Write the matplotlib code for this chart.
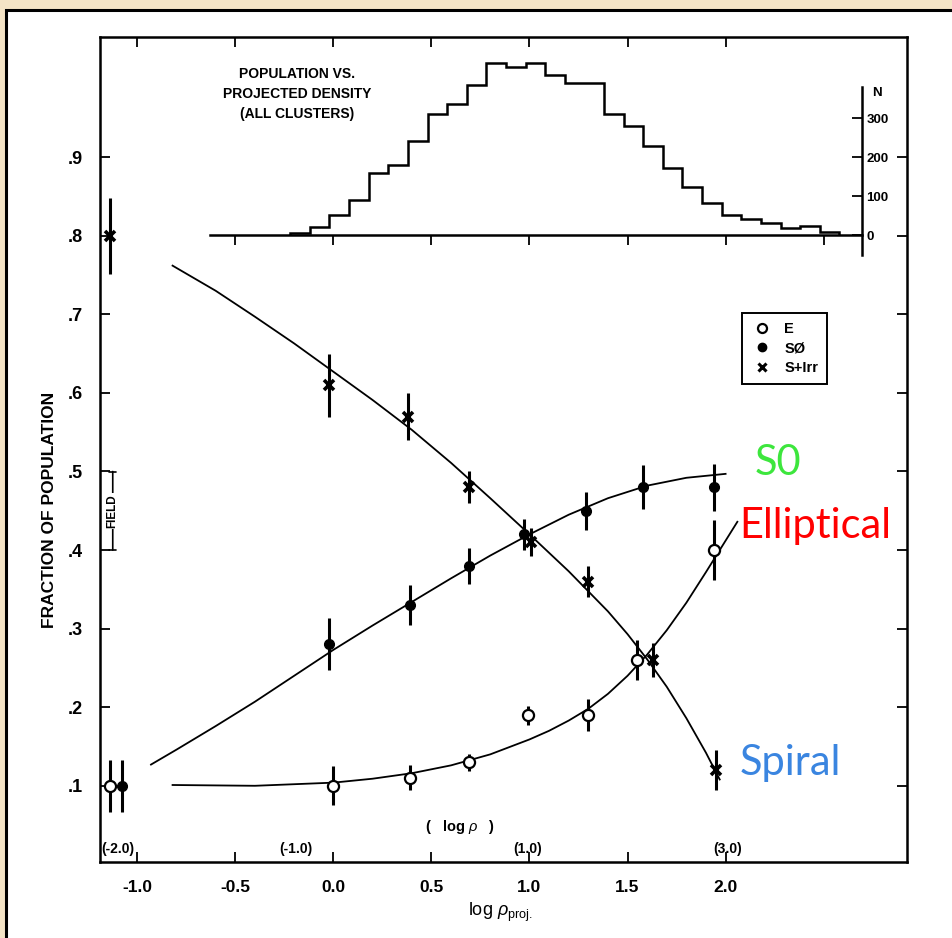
import numpy as np
import matplotlib
matplotlib.use('Agg')
import matplotlib.pyplot as plt
from matplotlib.patches import Rectangle
from matplotlib.lines import Line2D

plt.rcParams['font.family'] = ['Liberation Sans', 'DejaVu Sans']
plt.rcParams['mathtext.fontset'] = 'custom'
plt.rcParams['mathtext.rm'] = 'Liberation Sans'
plt.rcParams['mathtext.it'] = 'Liberation Sans:italic'

# field values (left of the axis break)
field_x = [-1.14, -1.08, -1.14]
field_y = [0.10, 0.10, 0.80]
field_err = [0.033, 0.033, 0.048]

# cluster points: log rho_proj, fraction, error
e_x = [0.0, 0.39, 0.69, 0.99, 1.30, 1.55, 1.94]
e_y = [0.10, 0.11, 0.13, 0.19, 0.19, 0.26, 0.40]
e_err = [0.025, 0.016, 0.011, 0.012, 0.02, 0.025, 0.038]

s0_x = [-0.02, 0.39, 0.69, 0.97, 1.29, 1.58, 1.94]
s0_y = [0.28, 0.33, 0.38, 0.42, 0.45, 0.48, 0.48]
s0_err = [0.033, 0.025, 0.023, 0.02, 0.024, 0.028, 0.03]

sp_x = [-0.02, 0.38, 0.69, 1.01, 1.30, 1.63, 1.95]
sp_y = [0.61, 0.57, 0.48, 0.41, 0.36, 0.26, 0.12]
sp_err = [0.04, 0.03, 0.02, 0.018, 0.02, 0.022, 0.025]

# hand drawn curves
sp_curve_x = [-0.82, -0.6, -0.4, -0.2, 0.0, 0.2, 0.4, 0.6, 0.8, 1.0, 1.2, 1.4, 1.5, 1.6, 1.7, 1.8, 1.9, 1.97]
sp_curve_y = [0.762, 0.730, 0.697, 0.663, 0.627, 0.591, 0.553, 0.511, 0.466, 0.420, 0.373, 0.322,
              0.293, 0.261, 0.226, 0.186, 0.142, 0.108]
s0_curve_x = [-0.93, -0.8, -0.6, -0.4, -0.2, 0.0, 0.2, 0.4, 0.6, 0.8, 1.0, 1.2, 1.4, 1.6, 1.8, 2.0]
s0_curve_y = [0.127, 0.146, 0.176, 0.207, 0.240, 0.273, 0.304, 0.334, 0.364, 0.393, 0.420, 0.445,
              0.466, 0.482, 0.492, 0.497]
e_curve_x = [-0.82, -0.4, 0.0, 0.2, 0.4, 0.6, 0.8, 1.0, 1.1, 1.2, 1.3, 1.4, 1.5, 1.6, 1.7, 1.8, 1.9, 2.0, 2.06]
e_curve_y = [0.101, 0.100, 0.104, 0.109, 0.116, 0.126, 0.140, 0.159, 0.170, 0.183, 0.198, 0.217,
             0.240, 0.267, 0.298, 0.333, 0.372, 0.412, 0.436]

# histogram of all cluster galaxies
hist_edges = [-0.22, -0.12, -0.02, 0.08, 0.18, 0.28, 0.38, 0.48, 0.58, 0.68, 0.78, 0.88,
              0.98, 1.08, 1.18, 1.28, 1.38, 1.48, 1.58, 1.68, 1.78, 1.88, 1.98, 2.08,
              2.18, 2.28, 2.38, 2.48, 2.58]
hist_n = [4, 21, 51, 89, 158, 180, 241, 310, 335, 384, 440, 431, 440, 410, 391, 391,
          311, 279, 227, 171, 123, 83, 52, 41, 31, 17, 23, 7]

xticks = [-1.0, -0.5, 0.0, 0.5, 1.0, 1.5, 2.0]
xtick_labels = ['-1.0', '-0.5', '0.0', '0.5', '1.0', '1.5', '2.0']
yticks = [0.1, 0.2, 0.3, 0.4, 0.5, 0.6, 0.7, 0.8, 0.9]
ytick_labels = ['.1', '.2', '.3', '.4', '.5', '.6', '.7', '.8', '.9']
logrho_pos = [-1.10, -0.19, 0.99, 2.01]
logrho_labels = ['(-2.0)', '(-1.0)', '(1.0)', '(3.0)']
n_ticks = [0, 100, 200, 300]
hist_ticks = [-0.5, 0.0, 0.5, 1.0, 1.5, 2.0, 2.5]

W, H = 953, 938
fig = plt.figure(figsize=(W / 100, H / 100), dpi=100)
fig.patch.set_facecolor('#f4e4c6')
fig.patches.append(Rectangle((6 / W, -0.05), 1.1, 1 - 10 / H + 0.05, transform=fig.transFigure,
                             facecolor='white', edgecolor='black', lw=2.2, zorder=-5))

ax = fig.add_axes([100 / W, 1 - 862 / H, 807 / W, 825 / H])
ax.set_zorder(2)
ax.set_facecolor('white')
ax.set_xlim(-1.19, 2.925)
ax.set_ylim(0.003, 1.053)
for s in ax.spines.values():
    s.set_linewidth(1.8)
ax.set_xticks(xticks)
ax.set_xticklabels(xtick_labels, fontsize=12.5, fontweight='bold')
ax.set_yticks(yticks)
ax.set_yticklabels(ytick_labels, fontsize=13, fontweight='bold')
ax.tick_params(direction='in', top=True, right=True, length=7, width=1.3)
ax.tick_params(axis='x', pad=13)
ax.tick_params(axis='y', pad=12)

# curves
ax.plot(sp_curve_x, sp_curve_y, color='black', lw=1.3)
ax.plot(s0_curve_x, s0_curve_y, color='black', lw=1.3)
ax.plot(e_curve_x, e_curve_y, color='black', lw=1.3)

eb = dict(color='black', elinewidth=2.2, capsize=0, ls='none', zorder=3)
ax.errorbar(e_x, e_y, yerr=e_err, fmt='o', ms=8, mfc='white', mec='black', mew=1.6, **eb)
ax.errorbar(s0_x, s0_y, yerr=s0_err, fmt='o', ms=7, mfc='black', mec='black', **eb)
ax.errorbar(sp_x, sp_y, yerr=sp_err, fmt='x', ms=7, mew=2.6, **eb)
ax.errorbar(field_x[0], field_y[0], yerr=field_err[0], fmt='o', ms=8, mfc='white', mec='black', mew=1.6, **eb)
ax.errorbar(field_x[1], field_y[1], yerr=field_err[1], fmt='o', ms=7, mfc='black', mec='black', **eb)
ax.errorbar(field_x[2], field_y[2], yerr=field_err[2], fmt='x', ms=7, mew=2.6, **eb)

# field bracket
ax.annotate('', xy=(-1.125, 0.4), xytext=(-1.125, 0.5),
            arrowprops=dict(arrowstyle='|-|,widthA=0.25,widthB=0.25', lw=1.2, color='black',
                            shrinkA=0, shrinkB=0))
ax.text(-1.125, 0.45, 'FIELD', rotation=90, ha='center', va='center', fontsize=8.5,
        fontweight='bold', bbox=dict(facecolor='white', edgecolor='none', pad=1))

for xp, lab in zip(logrho_pos, logrho_labels):
    ax.text(xp, 0.019, lab, ha='center', va='center', fontsize=10, fontweight='bold')
ax.text(0.645, 0.047, r'(   log $\rho$   )', ha='center', va='center', fontsize=10.5, fontweight='bold')

handles = [Line2D([], [], ls='none', marker='o', ms=6.5, mfc='white', mec='black', mew=1.6),
           Line2D([], [], ls='none', marker='o', ms=6, mfc='black', mec='black'),
           Line2D([], [], ls='none', marker='x', ms=6, mew=2.2, color='black')]
leg = ax.legend(handles, ['E', 'SØ', 'S+Irr'], loc='upper left', bbox_to_anchor=(0.7955, 0.6655),
                borderaxespad=0, fancybox=False, edgecolor='black', framealpha=1,
                handlelength=1.5, handletextpad=0.8, borderpad=0.6, labelspacing=0.4,
                prop={'size': 10.5, 'weight': 'bold'})
leg.get_frame().set_linewidth(1.4)

# colored annotations
ax.text(2.15, 0.496, 'S0', color='#3de63d', fontsize=30, family='Lato', va='baseline')
ax.text(2.07, 0.4155, 'Elliptical', color='#ff0000', fontsize=30, family='Lato', va='baseline')
ax.text(2.07, 0.114, 'Spiral', color='#3a85e0', fontsize=30, family='Lato', va='baseline')

# histogram inset sharing the x scale
axh = fig.add_axes([100 / W, 1 - 260 / H, 807 / W, 210 / H])
axh.set_zorder(3)
axh.set_facecolor('none')
axh.set_xlim(ax.get_xlim())
axh.set_ylim(-64.1, 474.4)
axh.stairs(hist_n, hist_edges, color='black', lw=1.8)
for k in ['top', 'left']:
    axh.spines[k].set_visible(False)
axh.spines['bottom'].set_position(('data', 0))
axh.spines['bottom'].set_bounds(-0.63, 2.696)
axh.spines['bottom'].set_linewidth(1.8)
axh.spines['right'].set_position(('data', 2.696))
axh.spines['right'].set_bounds(-51, 380)
axh.spines['right'].set_linewidth(1.8)
axh.set_xticks(hist_ticks)
axh.set_xticklabels([])
axh.tick_params(axis='x', direction='out', length=7, width=1.3)
axh.yaxis.tick_right()
axh.set_yticks(n_ticks)
axh.set_yticklabels([str(v) for v in n_ticks], fontsize=9.5, fontweight='bold')
axh.tick_params(axis='y', direction='in', length=7, width=1.3, pad=3)
axh.text(2.745, 365, 'N', fontsize=9.5, fontweight='bold', ha='left', va='center')

fig.text(297 / W, 1 - 67 / H, 'POPULATION VS.\nPROJECTED DENSITY\n(ALL CLUSTERS)',
         ha='center', va='top', multialignment='center', fontsize=10, fontweight='bold',
         linespacing=1.55)
fig.text(50 / W, 1 - 510 / H, 'FRACTION OF POPULATION', rotation=90, ha='center', va='center',
         fontsize=12.5, fontweight='bold')
fig.text(500 / W, 1 - 912 / H, r'log $\rho_{\rm proj.}$', ha='center', va='center', fontsize=13)

fig.savefig('out.png', dpi=100, facecolor=fig.get_facecolor())
